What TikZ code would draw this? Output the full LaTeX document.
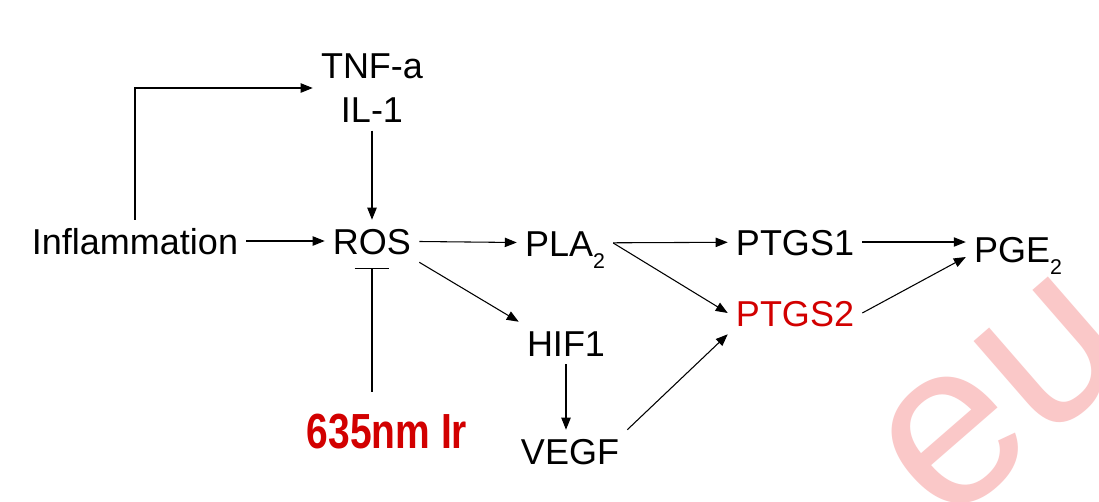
\documentclass[tikz,border=0pt]{standalone}
\usepackage{fontspec}
\setmainfont{Liberation Sans}
\usetikzlibrary{arrows.meta}
\definecolor{hired}{RGB}{210,0,0}
\definecolor{markred}{RGB}{250,200,200}
\newcommand\lowsub[1]{\raisebox{-9pt}{\fontsize{16pt}{16pt}\selectfont #1}}

\begin{document}
\begin{tikzpicture}[x=0.75pt,y=-0.75pt,
  lbl/.style={font=\fontsize{27pt}{33pt}\selectfont, inner sep=6pt, text height=19.5pt, text depth=0pt},
  link/.style={line width=0.8pt, -{Triangle[length=9pt,width=7pt]}},
  block/.style={line width=0.8pt, -{Bar[width=26pt]}}]
\clip (0,0) rectangle (1099,501);
\fill[white] (0,0) rectangle (1099,501);
% watermark
\node[rotate=41, text=markred, font=\fontsize{175pt}{175pt}\selectfont, inner sep=0] (mark) at (1003,398) {eu};
% nodes
\node[lbl] (infl) at (135,241) {Inflammation};
\node[font=\fontsize{27pt}{33pt}\selectfont, align=center, inner sep=6pt] (tnf) at (372,88) {TNF-a\\IL-1};
\node[lbl] (ros) at (372,241) {ROS};
\node[lbl] (pla) at (565,243) {PLA\lowsub{2}};
\node[lbl] (hif) at (566,343) {HIF1};
\node[lbl] (vegf) at (570,451) {VEGF};
\node[lbl] (ptgs1) at (795,242) {PTGS1};
\node[lbl, text=hired] (ptgs2) at (795,313) {PTGS2};
\node[lbl] (pge) at (1018,249) {PGE\lowsub{2}};
\node[font=\fontsize{37pt}{37pt}\selectfont\bfseries, text=hired, inner sep=6pt] (ir) at (387,432) {\scalebox{0.79}[1]{635nm Ir}};
% connectors
\draw[link] (infl.north) |- (tnf.west);
\draw[link] (infl) -- (ros);
\draw[link] (tnf) -- (ros);
\draw[link] (ros) -- (pla);
\draw[link] (ros.south east) -- (hif.north west);
\draw[link] (pla) -- (ptgs1);
\draw[link] (pla.east) -- (ptgs2.west);
\draw[link] (ptgs1) -- (ptgs1 -| pge.west);
\draw[link] (ptgs2.east) -- ([yshift=-6pt]pge.west);
\draw[link] (hif.south) -- (hif.south |- vegf.north);
\draw[link] (vegf.north east) -- (ptgs2.south west);
\draw[block, shorten <=11pt, shorten >=4pt] (ros.south |- ir.north) -- (ros.south);
\end{tikzpicture}
\end{document}
